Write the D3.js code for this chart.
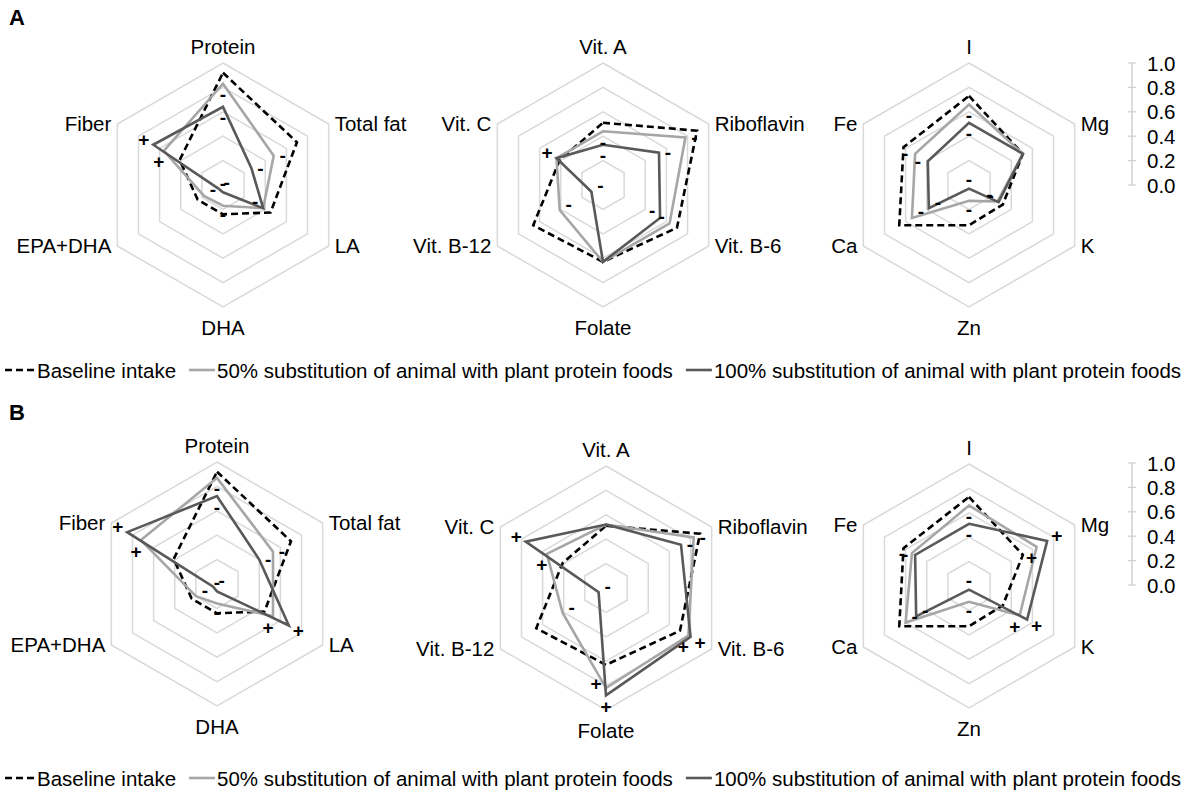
<!DOCTYPE html>
<html><head><meta charset="utf-8">
<script src="https://cdn.jsdelivr.net/npm/d3@7"></script>
<style>
body{margin:0;background:#fff}
svg{display:block}
text{font-family:"Liberation Sans",Arial,Helvetica,sans-serif;fill:#000}
</style>
</head><body>
<svg id="c" width="1186" height="804"></svg>
<script>
// ---------- data ----------
const axesMacro = ["Protein","Total fat","LA","DHA","EPA+DHA","Fiber"];
const axesVit   = ["Vit. A","Riboflavin","Vit. B-6","Folate","Vit. B-12","Vit. C"];
const axesMin   = ["I","Mg","K","Zn","Ca","Fe"];
const seriesNames = ["Baseline intake",
  "50% substitution of animal with plant protein foods",
  "100% substitution of animal with plant protein foods"];
const scaleTicks = [0.0,0.2,0.4,0.6,0.8,1.0];
const panelNames = ["A","B"];

// baseline intake (same in both panels)
const baseMacro = [0.92,0.70,0.45,0.24,0.24,0.41];
const baseVit   = [0.51,0.89,0.70,0.63,0.66,0.41];
const baseMin   = [0.73,0.51,0.32,0.33,0.66,0.62];

// panel A
const aHalfMacro = [0.83,0.48,0.38,0.17,0.18,0.56];
const aFullMacro = [0.64,0.27,0.38,0.06,0.05,0.66];
const aHalfVit   = [0.44,0.78,0.63,0.63,0.41,0.44];
const aFullVit   = [0.33,0.53,0.54,0.63,0.11,0.44];
const aHalfMin   = [0.66,0.51,0.27,0.13,0.54,0.51];
const aFullMin   = [0.51,0.51,0.28,0.03,0.38,0.39];
const aHalfMacroSign = ["-","-","","-","-","+"];
const aFullMacroSign = ["-","-","-","-","-","+"];
const aHalfVitSign   = ["-","-","-","","-",""];
const aFullVitSign   = ["-","-","-","","-","+"];
const aHalfMinSign   = ["-","","-","-","-","-"];
const aFullMinSign   = ["-","","-","-","-","-"];

// panel B
const bHalfMacro = [0.87,0.53,0.53,0.16,0.20,0.72];
const bFullMacro = [0.72,0.40,0.68,0.06,0.04,0.85];
const bHalfVit   = [0.52,0.83,0.78,0.82,0.41,0.56];
const bFullVit   = [0.52,0.71,0.80,0.88,0.07,0.76];
const bHalfMin   = [0.66,0.64,0.48,0.13,0.60,0.54];
const bFullMin   = [0.51,0.74,0.55,0.03,0.50,0.51];
const bHalfMacroSign = ["-","-","+","-","-","+"];
const bFullMacroSign = ["-","-","+","-","-","+"];
const bHalfVitSign   = ["","-","+","+","-","+"];
const bFullVitSign   = ["","-","+","+","-","+"];
const bHalfMinSign   = ["-","+","+","-","-","-"];
const bFullMinSign   = ["-","+","+","-","-","-"];

// ---------- layout ----------
const R = 122;
const FS = 20.5;
const colors = ["#000000","#a6a6a6","#595959"];
const svg = d3.select("#c");
const r = d3.scaleLinear().domain([0,1]).range([0,R]);
const ang = d3.scaleLinear().domain([0,6]).range([0,2*Math.PI]);

const charts = [
  {cx:223, cy:185, axes:axesMacro, vals:[baseMacro,aHalfMacro,aFullMacro], signs:[null,aHalfMacroSign,aFullMacroSign]},
  {cx:603, cy:185, axes:axesVit,   vals:[baseVit,aHalfVit,aFullVit],       signs:[null,aHalfVitSign,aFullVitSign]},
  {cx:969, cy:185, axes:axesMin,   vals:[baseMin,aHalfMin,aFullMin],       signs:[null,aHalfMinSign,aFullMinSign]},
  {cx:217, cy:584, axes:axesMacro, vals:[baseMacro,bHalfMacro,bFullMacro], signs:[null,bHalfMacroSign,bFullMacroSign]},
  {cx:606, cy:588, axes:axesVit,   vals:[baseVit,bHalfVit,bFullVit],       signs:[null,bHalfVitSign,bFullVitSign]},
  {cx:969, cy:586, axes:axesMin,   vals:[baseMin,bHalfMin,bFullMin],       signs:[null,bHalfMinSign,bFullMinSign]}
];

const radial = d3.lineRadial().angle((d,i)=>ang(i)).radius(d=>r(d)).curve(d3.curveLinearClosed);
const pt = (i,v)=>[r(v)*Math.sin(ang(i)), -r(v)*Math.cos(ang(i))];

charts.forEach(c=>{
  const g = svg.append("g").attr("transform",`translate(${c.cx},${c.cy})`);
  // grid rings
  scaleTicks.filter(t=>t>0).forEach(t=>{
    g.append("path").attr("d", radial(d3.range(6).map(()=>t)))
      .attr("fill","none").attr("stroke","#d9d9d9").attr("stroke-width",1.5);
  });
  // axis labels
  c.axes.forEach((name,i)=>{
    const [x,y] = pt(i,1);
    let tx=x, ty=y, anchor="middle";
    if(i===0){ ty = y-17; }
    else if(i===3){ ty = y+20; }
    else if(i===1||i===2){ tx = x+6; anchor="start"; ty=y-1; }
    else { tx = x-6; anchor="end"; ty=y-1; }
    g.append("text").attr("x",tx).attr("y",ty).attr("text-anchor",anchor)
      .attr("dominant-baseline","central").attr("font-size",FS).text(name);
  });
  // series
  c.vals.forEach((vals,s)=>{
    g.append("path").attr("d", radial(vals)).attr("fill","none")
      .attr("stroke",colors[s]).attr("stroke-width",2.6)
      .attr("stroke-linejoin","miter")
      .attr("stroke-dasharray", s===0 ? "7,4" : null);
  });
  // significance signs
  c.vals.forEach((vals,s)=>{
    const sg = c.signs[s]; if(!sg) return;
    vals.forEach((v,i)=>{
      const sym = sg[i]; if(!sym) return;
      let [x,y] = pt(i,v);
      if(sym==="+"){
        if(s===2){ x += 11*Math.sin(ang(i)); y -= 11*Math.cos(ang(i)); }
        else if(i===3){ x -= 10; y -= 5; }
        else { x -= 5; y += 11; }
      } else {
        if(i===0) y += 11;
        else if(i===3) y += (s===2 ? -9 : 9);
        else if(i===1) x += 9;
        else if(i===5) x -= 10;
        else if(i===2){ x -= 8; y -= 7; }
        else { x += 9; y -= 6; }
      }
      g.append("text").attr("x",x).attr("y",y).attr("text-anchor","middle")
        .attr("dominant-baseline","central").attr("font-size",19)
        .attr("font-weight","bold").text(sym);
    });
  });
});

// scale axes
[[185],[585]].forEach(([cy])=>{
  const ys = d3.scaleLinear().domain([0,1]).range([cy, cy-R]);
  const ax = svg.append("g");
  ax.append("line").attr("x1",1132).attr("x2",1132).attr("y1",ys(0)).attr("y2",ys(1))
    .attr("stroke","#d0d0d0").attr("stroke-width",1.5);
  scaleTicks.forEach(t=>{
    ax.append("line").attr("x1",1128).attr("x2",1136).attr("y1",ys(t)).attr("y2",ys(t))
      .attr("stroke","#d0d0d0").attr("stroke-width",1.2);
    ax.append("text").attr("x",1147).attr("y",ys(t)).attr("dominant-baseline","central")
      .attr("font-size",FS).text(d3.format(".1f")(t));
  });
});

// panel letters
[[17],[412]].forEach(([y],k)=>{
  svg.append("text").attr("x",9).attr("y",y).attr("dominant-baseline","central")
    .attr("font-size",22).attr("font-weight","bold").text(panelNames[k]);
});

// legends
[[370],[778]].forEach(([ly])=>{
  const lg = svg.append("g");
  let x = 5;
  seriesNames.forEach((name,s)=>{
    const lw = s===0 ? 30 : 26;
    lg.append("line").attr("x1",x).attr("x2",x+lw).attr("y1",ly).attr("y2",ly)
      .attr("stroke",colors[s]).attr("stroke-width",2.6)
      .attr("stroke-dasharray", s===0 ? "7,4" : null);
    x += lw + 2;
    const t = lg.append("text").attr("x",x).attr("y",ly).attr("dominant-baseline","central")
      .attr("font-size",FS).text(name);
    x += t.node().getComputedTextLength() + 13;
  });
});
</script>
</body></html>
